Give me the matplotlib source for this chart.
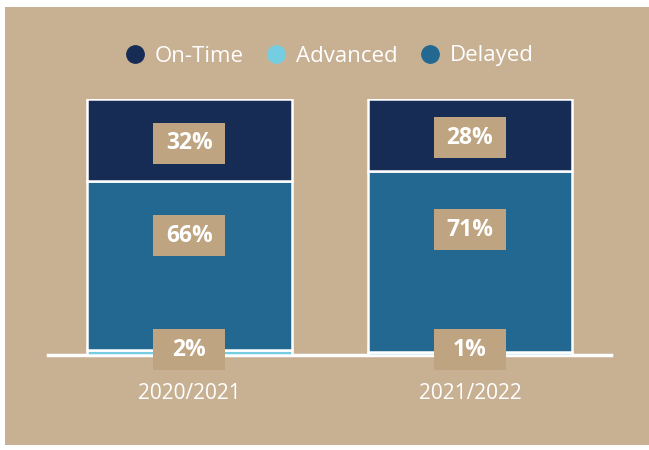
import matplotlib.pyplot as plt
from matplotlib.patches import Rectangle
from matplotlib.lines import Line2D

plt.rcParams['font.family'] = ['Open Sans', 'DejaVu Sans']

years = ["2020/2021", "2021/2022"]
advanced = [2, 1]
delayed = [66, 71]
on_time = [32, 28]

c_ontime = "#172c55"
c_adv = "#74cde0"
c_delay = "#236890"
bg = "#c8b093"
box_col = "#bfa481"

W, H = 649, 450
fig = plt.figure(figsize=(W / 100, H / 100), dpi=100)
fig.patch.set_facecolor("white")
fig.add_artist(Rectangle((5 / W, 5 / H), 1 - 5 / W, (H - 12) / H,
                         transform=fig.transFigure, fc=bg, ec="none", zorder=-5))

# axes: baseline y=355px, top of bars y=99px, x from 48 to 611 px
ax = fig.add_axes([48 / W, (H - 355) / H, (611 - 48) / W, (355 - 99) / H])
ax.set_zorder(2)
ax.set_facecolor("none")
x = [0, 1]
bw = 0.73
ax.axhline(0, color="white", lw=2.5, zorder=1, clip_on=False)
ax.bar(x, advanced, bw, color=c_adv, edgecolor="white", linewidth=1.8, zorder=2)
ax.bar(x, delayed, bw, bottom=advanced, color=c_delay, edgecolor="white", linewidth=1.8, zorder=2)
bot2 = [a + d for a, d in zip(advanced, delayed)]
ax.bar(x, on_time, bw, bottom=bot2, color=c_ontime, edgecolor="white", linewidth=1.8, zorder=2)

ax.set_xlim(-0.504, 1.503)
ax.set_ylim(0, 100)
for s in ax.spines.values():
    s.set_visible(False)
ax.set_yticks([])
ax.set_xticks(x)
ax.set_xticklabels(years, color="white", fontsize=15)
ax.tick_params(axis="x", length=0, pad=20)

bx_w, bx_h = 0.257, 16
for i in x:
    segs = [(advanced[i], 0, 0), (delayed[i], advanced[i], 0.675), (on_time[i], bot2[i], 0.46)]
    for v, b, f in segs:
        cy = b + v * f if v >= 5 else 2
        ax.add_patch(Rectangle((i - bx_w / 2, cy - bx_h / 2), bx_w, bx_h,
                               fc=box_col, ec="none", zorder=4, clip_on=False))
        ax.text(i, cy, f"{v}%", ha="center", va="center", color="white",
                fontsize=16.5, fontweight="bold", zorder=5)

handles = [Line2D([], [], ls="none", marker="o", ms=12.5, mfc=c, mec=c)
           for c in (c_ontime, c_adv, c_delay)]
fig.legend(handles, ["On-Time", "Advanced", "Delayed"], loc="center",
           bbox_to_anchor=(329 / W, 1 - 56 / H), ncol=3, frameon=False,
           fontsize=16, labelcolor="white", handletextpad=0.4,
           columnspacing=0.95, handlelength=1.0)

fig.savefig("out.png", dpi=100, facecolor=fig.get_facecolor())
